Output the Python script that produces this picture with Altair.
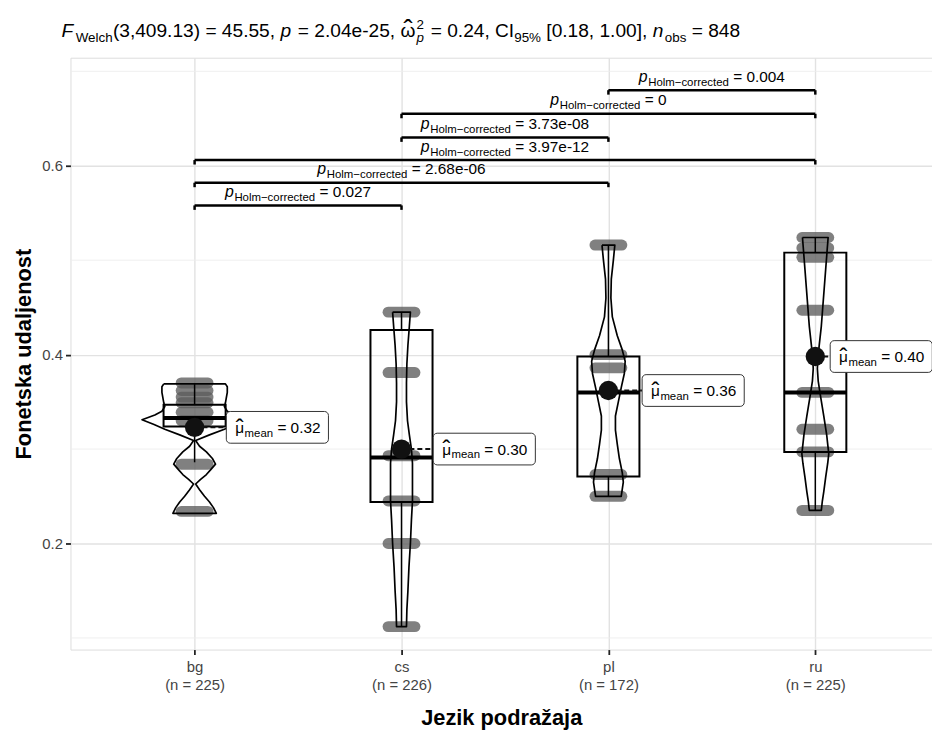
import altair as alt
import pandas as pd

FONT = "Liberation Sans"

# ---------------- data ----------------
groups = ["bg", "cs", "pl", "ru"]
n_obs = [225, 226, 172, 225]
means = [0.323, 0.300, 0.362, 0.398]
mean_text = ["0.32", "0.30", "0.36", "0.40"]

q1 = [0.324, 0.244, 0.271, 0.297]
med = [0.333, 0.291, 0.360, 0.360]
q3 = [0.347, 0.426, 0.398, 0.508]
whisk_lo = [0.286, 0.112, 0.250, 0.235]
whisk_hi = [0.370, 0.445, 0.516, 0.524]

# distinct observed values (jittered clusters of points)
pts_bg = [0.370, 0.362, 0.355, 0.349, 0.339, 0.330, 0.284, 0.234]
pts_cs = [0.445, 0.381, 0.293, 0.245, 0.200, 0.112]
pts_pl = [0.516, 0.400, 0.386, 0.273, 0.250]
pts_ru = [0.524, 0.513, 0.503, 0.447, 0.360, 0.321, 0.297, 0.235]

# violin profiles: value and half-width (x units)
vio_bg_v = [0.369, 0.366, 0.360, 0.354, 0.349, 0.345, 0.340, 0.336, 0.331, 0.326, 0.321, 0.315,
            0.309, 0.303, 0.297, 0.290, 0.284, 0.278, 0.273, 0.268, 0.263, 0.257, 0.250, 0.244, 0.238, 0.232]
vio_bg_w = [0.149, 0.158, 0.158, 0.153, 0.149, 0.144, 0.158, 0.192, 0.254, 0.196, 0.144, 0.072,
            0.005, 0.024, 0.057, 0.086, 0.101, 0.077, 0.057, 0.029, 0.005, 0.024, 0.048, 0.072, 0.091, 0.105]
vio_cs_v = [0.445, 0.430, 0.410, 0.390, 0.370, 0.350, 0.330, 0.315, 0.300, 0.285, 0.265, 0.245,
            0.225, 0.200, 0.175, 0.150, 0.130, 0.112]
vio_cs_w = [0.043, 0.038, 0.031, 0.026, 0.024, 0.024, 0.029, 0.038, 0.048, 0.053, 0.053, 0.053,
            0.048, 0.043, 0.036, 0.031, 0.026, 0.024]
vio_pl_v = [0.516, 0.500, 0.480, 0.460, 0.440, 0.420, 0.405, 0.393, 0.380, 0.365, 0.350, 0.335,
            0.320, 0.305, 0.290, 0.275, 0.265, 0.250]
vio_pl_w = [0.031, 0.024, 0.014, 0.012, 0.019, 0.043, 0.067, 0.081, 0.077, 0.062, 0.048, 0.034,
            0.034, 0.043, 0.053, 0.067, 0.072, 0.062]
vio_ru_v = [0.524, 0.510, 0.490, 0.470, 0.450, 0.430, 0.410, 0.395, 0.385, 0.372, 0.355, 0.335,
            0.315, 0.295, 0.285, 0.270, 0.255, 0.245, 0.235]
vio_ru_w = [0.062, 0.057, 0.050, 0.043, 0.036, 0.029, 0.019, 0.012, 0.010, 0.014, 0.026, 0.041,
            0.055, 0.065, 0.060, 0.050, 0.041, 0.034, 0.029]

# pairwise comparisons
pair_a = ["bg", "bg", "bg", "cs", "cs", "pl"]
pair_b = ["cs", "pl", "ru", "pl", "ru", "ru"]
pair_y = [0.558, 0.582, 0.606, 0.630, 0.655, 0.680]
pair_p = ["0.027", "2.68e-06", "3.97e-12", "3.73e-08", "0", "0.004"]

# subtitle statistics
f_df = "3,409.13"
f_val = "45.55"
p_val = "2.04e-25"
omega_val = "0.24"
ci_lo, ci_hi = "0.18", "1.00"
n_total = "848"

minor_grid = [0.1, 0.3, 0.5, 0.7]
major_grid = [0.2, 0.4, 0.6]

# ---------------- layout ----------------
W, H = 869, 597
XD = [-0.6, 3.564]
YD = [0.0877, 0.7144]
PXU = W / (XD[1] - XD[0])
PYU = H / (YD[1] - YD[0])

AW = {' ': 278, '(': 333, ')': 333, ',': 278, '.': 278, '=': 584, '-': 333, '%': 889,
      '[': 278, ']': 278, 'C': 722, 'I': 278, 'F': 611, 'H': 722, 'W': 944,
      'a': 556, 'b': 556, 'c': 500, 'd': 556, 'e': 556, 'h': 556, 'l': 222, 'm': 833,
      'n': 556, 'o': 556, 'p': 556, 'r': 333, 's': 500, 't': 278, '\u2212': 584,
      'μ': 576, 'ω': 781}


def tw(s, size):
    return sum(AW.get(c, 556) for c in s) * size / 1000.0


idx = {g: i for i, g in enumerate(groups)}

XS = alt.Scale(domain=XD, nice=False, zero=False)
YS = alt.Scale(domain=YD, nice=False, zero=False)

parts = [f"datum.value == {i} ? ['{g}', '(n = {n})']" for i, (g, n) in enumerate(zip(groups, n_obs))]
label_expr = " : ".join(parts[:-1]) + f" : ['{groups[-1]}', '(n = {n_obs[-1]})']"

XAX = alt.Axis(values=[0, 1, 2, 3], labelExpr=label_expr, title="Jezik podražaja",
               grid=True, gridColor="#e2e2e2", gridWidth=1.4, domain=False,
               tickColor="#222222", tickSize=5, tickWidth=1.8,
               labelFontSize=15, labelColor="#444444", labelLineHeight=18, labelPadding=5,
               labelFont=FONT, labelOverlap=False, labelFlush=False,
               titleFont=FONT, titleFontSize=22, titleFontWeight="bold", titleColor="black",
               titlePadding=16)
YAX = alt.Axis(values=major_grid, format=".1f", title="Fonetska udaljenost",
               grid=True, gridColor="#e2e2e2", gridWidth=1.4, domain=False,
               tickColor="#222222", tickSize=5, tickWidth=1.8,
               labelFontSize=15, labelColor="#444444", labelPadding=3, labelFont=FONT,
               titleFont=FONT, titleFontSize=22, titleFontWeight="bold", titleColor="black",
               titlePadding=6)


def X(f):
    return alt.X(f, type="quantitative", scale=XS, axis=XAX)


def Y(f):
    return alt.Y(f, type="quantitative", scale=YS, axis=YAX)


# ---------------- tables ----------------
pts_all = {"bg": pts_bg, "cs": pts_cs, "pl": pts_pl, "ru": pts_ru}
rows = []
for g, vals in pts_all.items():
    for v in vals:
        rows.append({"g": g, "v": v, "xa": idx[g] - 0.065, "xb": idx[g] + 0.065})
df_pts = pd.DataFrame(rows)

df_box = pd.DataFrame({"g": groups, "i": list(range(4)), "q1": q1, "med": med, "q3": q3,
                       "lo": whisk_lo, "hi": whisk_hi})
df_box["bl"] = df_box["i"] - 0.15
df_box["br"] = df_box["i"] + 0.15

# violin outlines as closed paths: down the left side, up the right side, back to start
vio = {"bg": (vio_bg_v, vio_bg_w), "cs": (vio_cs_v, vio_cs_w),
       "pl": (vio_pl_v, vio_pl_w), "ru": (vio_ru_v, vio_ru_w)}
rows = []
for g, (vs, ws) in vio.items():
    k = 0
    for v, w in zip(vs, ws):
        rows.append({"g": g, "k": k, "v": v, "x": idx[g] - w})
        k += 1
    for v, w in zip(reversed(vs), reversed(ws)):
        rows.append({"g": g, "k": k, "v": v, "x": idx[g] + w})
        k += 1
    rows.append({"g": g, "k": k, "v": vs[0], "x": idx[g] - ws[0]})
df_vio = pd.DataFrame(rows)

LOFF = [32, 32, 34, 15]  # label offsets (px) from group centre
df_mean = pd.DataFrame({"g": groups, "i": list(range(4)), "mean": means,
                        "txt": ["= " + t for t in mean_text]})
df_mean["lb"] = df_mean["i"] + pd.Series(LOFF) / PXU
df_mean["rb"] = df_mean["lb"] + 103 / PXU
df_mean["yb"] = df_mean["mean"] - 16 / PYU
df_mean["yt"] = df_mean["mean"] + 16 / PYU

SUB = "Holm\u2212corrected"
P_SIZE, SUB_SIZE, VAL_SIZE = 16, 11.5, 15.5
sub_dx = tw("p", P_SIZE) + 0.6
val_dx = sub_dx + tw(SUB, SUB_SIZE) + 0.278 * VAL_SIZE
df_br = pd.DataFrame({"a": pair_a, "b": pair_b, "y": pair_y, "p": pair_p})
df_br["xa"] = df_br["a"].map(idx)
df_br["xb"] = df_br["b"].map(idx)
df_br["tip"] = df_br["y"] - 4.5 / PYU
df_br["val"] = "= " + df_br["p"]
df_br["xs"] = (df_br["xa"] + df_br["xb"]) / 2 - (val_dx + df_br["val"].map(lambda s: tw(s, VAL_SIZE))) / 2 / PXU

df_minor = pd.DataFrame({"v": minor_grid})

# ---------------- layers ----------------
layers = []
layers.append(alt.Chart(df_minor).mark_rule(color="#ededed", strokeWidth=0.9).encode(y=Y("v")))

layers.append(alt.Chart(df_pts).mark_rule(strokeWidth=11, strokeCap="round", color="#5c5c5c",
                                          opacity=0.78).encode(x=X("xa"), x2="xb", y=Y("v")))

layers.append(alt.Chart(df_box).mark_rect(fill="white", fillOpacity=0, stroke="black",
                                          strokeWidth=2).encode(x=X("bl"), x2="br", y=Y("q1"), y2="q3"))
layers.append(alt.Chart(df_box).mark_rule(color="black", strokeWidth=4).encode(
    x=X("bl"), x2="br", y=Y("med")))
layers.append(alt.Chart(df_box).mark_rule(color="black", strokeWidth=1.5).encode(
    x=X("i"), y=Y("q3"), y2="hi"))
layers.append(alt.Chart(df_box).mark_rule(color="black", strokeWidth=1.5).encode(
    x=X("i"), y=Y("lo"), y2="q1"))

layers.append(alt.Chart(df_vio).mark_line(color="black", strokeWidth=1.7, interpolate="linear",
                                          strokeJoin="round").encode(
    x=X("x"), y=Y("v"), detail="g:N", order=alt.Order("k:Q")))

layers.append(alt.Chart(df_mean).mark_rule(color="#111111", strokeWidth=2, strokeDash=[5, 3]).encode(
    x=X("i"), x2="lb", y=Y("mean")))
layers.append(alt.Chart(df_mean).mark_circle(size=380, color="#111111", opacity=1).encode(
    x=X("i"), y=Y("mean")))
layers.append(alt.Chart(df_mean).mark_rect(fill="white", stroke="#333333", strokeWidth=1,
                                           cornerRadius=4).encode(x=X("lb"), x2="rb", y=Y("yb"), y2="yt"))
mu_w = tw("μ", 15.5)
layers.append(alt.Chart(df_mean).mark_text(text="μ", font=FONT, fontSize=15.5, align="left",
                                           baseline="alphabetic", dx=9, dy=5.5, color="black").encode(
    x=X("lb"), y=Y("mean")))
layers.append(alt.Chart(df_mean).mark_text(text="ˆ", font=FONT, fontSize=24, align="center",
                                           baseline="alphabetic", dx=9 + mu_w / 2, dy=8.5, color="black").encode(
    x=X("lb"), y=Y("mean")))
layers.append(alt.Chart(df_mean).mark_text(text="mean", font=FONT, fontSize=11.5, align="left",
                                           baseline="alphabetic", dx=9 + mu_w + 0.5, dy=9.5, color="black").encode(
    x=X("lb"), y=Y("mean")))
layers.append(alt.Chart(df_mean).mark_text(font=FONT, fontSize=15.5, align="left",
                                           baseline="alphabetic",
                                           dx=9 + mu_w + 0.5 + tw("mean", 11.5) + 0.278 * 15.5,
                                           dy=5.5, color="black").encode(
    x=X("lb"), y=Y("mean"), text="txt:N"))

# brackets
layers.append(alt.Chart(df_br).mark_rule(color="black", strokeWidth=2.5).encode(
    x=X("xa"), x2="xb", y=Y("y")))
layers.append(alt.Chart(df_br).mark_rule(color="black", strokeWidth=2.5).encode(
    x=X("xa"), y=Y("y"), y2="tip"))
layers.append(alt.Chart(df_br).mark_rule(color="black", strokeWidth=2.5).encode(
    x=X("xb"), y=Y("y"), y2="tip"))
layers.append(alt.Chart(df_br).mark_text(text="p", font=FONT, fontSize=P_SIZE, fontStyle="italic",
                                         align="left", baseline="alphabetic", dy=-8.5, color="black").encode(
    x=X("xs"), y=Y("y")))
layers.append(alt.Chart(df_br).mark_text(text=SUB, font=FONT, fontSize=SUB_SIZE, align="left",
                                         baseline="alphabetic", dx=sub_dx, dy=-4.5, color="black").encode(
    x=X("xs"), y=Y("y")))
layers.append(alt.Chart(df_br).mark_text(font=FONT, fontSize=VAL_SIZE, align="left",
                                         baseline="alphabetic", dx=val_dx, dy=-8.5, color="black").encode(
    x=X("xs"), y=Y("y"), text="val:N"))

# subtitle (statistical summary) built from pieces
S, s = 19.3, 13.5
TB = -21.0
cur = [-9.0]


def put(text, size, x, y, style="normal", align="left"):
    layers.append(alt.Chart(pd.DataFrame({"t": [text]})).mark_text(
        align=align, baseline="alphabetic", fontSize=size, fontStyle=style, font=FONT,
        color="black").encode(text="t:N", x=alt.value(x), y=alt.value(y)))


def run(text, size, dy=0.0, style="normal", gap=0.0):
    lead = len(text) - len(text.lstrip(" "))
    cur[0] += lead * 0.278 * size
    core = text.strip(" ")
    put(core, size, cur[0], TB + dy, style)
    cur[0] += tw(core, size) + gap
    trail = len(text) - len(text.rstrip(" "))
    cur[0] += trail * 0.278 * size


run("F", S, style="italic", gap=2.5)
run("Welch", s, dy=5)
run(f"({f_df}) = {f_val}, ", S)
run("p", S, style="italic", gap=1.5)
run(f" = {p_val}, ", S)
w_om = tw("ω", S)
put("ω", S, cur[0], TB)
put("ˆ", 28, cur[0] + w_om / 2, TB + 2.5, align="center")
cur[0] += w_om + 1
put("2", s, cur[0], TB - 8)
put("p", s, cur[0], TB + 5, style="italic")
cur[0] += 0.556 * s + 1.5
run(f" = {omega_val}, CI", S)
run("95%", s, dy=5)
run(f" [{ci_lo}, {ci_hi}], ", S)
run("n", S, style="italic", gap=1.5)
run("obs", s, dy=5)
run(f" = {n_total}", S)

chart = alt.layer(*layers).properties(
    width=W, height=H,
    padding={"left": 63, "top": 47, "right": 0, "bottom": 78},
    autosize=alt.AutoSizeParams(type="none"),
    background="white",
).configure_view(stroke=None).configure(font=FONT)

chart.save("out.html", embed_options={"renderer": "svg", "actions": False})
